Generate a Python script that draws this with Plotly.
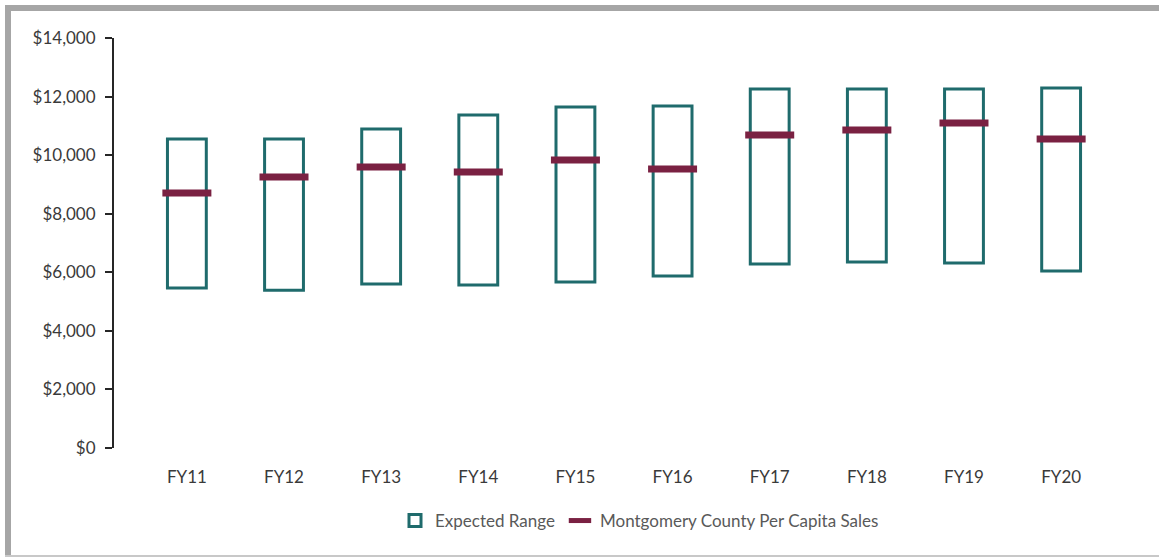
import plotly.graph_objects as go

categories = ["FY11", "FY12", "FY13", "FY14", "FY15", "FY16", "FY17", "FY18", "FY19", "FY20"]
range_low = [5460, 5390, 5600, 5565, 5665, 5870, 6280, 6350, 6315, 6045]
range_high = [10550, 10550, 10890, 11370, 11640, 11675, 12255, 12255, 12255, 12290]
county_sales = [8705, 9250, 9595, 9425, 9835, 9525, 10685, 10855, 11095, 10550]
y_ticks = [0, 2000, 4000, 6000, 8000, 10000, 12000, 14000]
y_tick_labels = ["$0", "$2,000", "$4,000", "$6,000", "$8,000", "$10,000", "$12,000", "$14,000"]

TEAL = "#1f6b6c"
MAROON = "#7a2142"
FONT = "Lato"

fig = go.Figure()
fig.add_trace(go.Bar(
    x=categories,
    base=range_low,
    y=[h - l for h, l in zip(range_high, range_low)],
    name="Expected Range",
    width=0.4,
    marker=dict(color="white", line=dict(color=TEAL, width=3)),
    hoverinfo="skip",
))
fig.add_trace(go.Scatter(
    x=categories,
    y=county_sales,
    name="Montgomery County Per Capita Sales",
    mode="markers",
    marker=dict(symbol="line-ew", size=35, line=dict(color=MAROON, width=7)),
))

# plot area geometry in pixels (for frame shapes)
L, R, T, B = 114, 1134, 38, 448
W, H = R - L, B - T
def px_x(p):
    return (p - L) / W
def px_y(p):
    return (B - p) / H

shapes = [
    dict(type="rect", xref="paper", yref="paper", x0=px_x(5), x1=px_x(1170), y0=px_y(11), y1=px_y(5),
         fillcolor="#a6a6a6", line=dict(width=0), layer="above"),
    dict(type="rect", xref="paper", yref="paper", x0=px_x(5), x1=px_x(11), y0=px_y(557), y1=px_y(5),
         fillcolor="#a6a6a6", line=dict(width=0), layer="above"),
    dict(type="rect", xref="paper", yref="paper", x0=px_x(5), x1=px_x(1170), y0=px_y(557), y1=px_y(555),
         fillcolor="#c8c8c8", line=dict(width=0), layer="above"),
]

fig.update_layout(
    width=1159, height=557,
    margin=dict(l=L, r=1159 - R, t=T, b=557 - B, autoexpand=False),
    paper_bgcolor="white", plot_bgcolor="white",
    font=dict(family=FONT, size=17, color="#3a3a3a"),
    showlegend=True,
    legend=dict(orientation="h", x=px_x(395), xanchor="left", y=px_y(521), yanchor="middle",
                font=dict(family=FONT, size=17, color="#595959"), traceorder="normal",
                itemwidth=30),
    shapes=shapes,
)
fig.update_xaxes(
    showline=False, showgrid=False, zeroline=False, ticks="",
    tickfont=dict(family=FONT, size=17, color="#3a3a3a"),
    ticklabelstandoff=17,
)
fig.update_yaxes(
    range=[0, 14000], tickmode="array", tickvals=y_ticks, ticktext=y_tick_labels,
    showline=True, linecolor="#262626", linewidth=2,
    ticks="outside", ticklen=7, tickwidth=2, tickcolor="#262626",
    showgrid=False, zeroline=False,
    tickfont=dict(family=FONT, size=17, color="#3a3a3a"),
    ticklabelstandoff=6,
)

fig.write_html("out.html", config={"displayModeBar": False},
               post_script="document.body.style.margin='0';document.body.style.overflow='hidden';")
